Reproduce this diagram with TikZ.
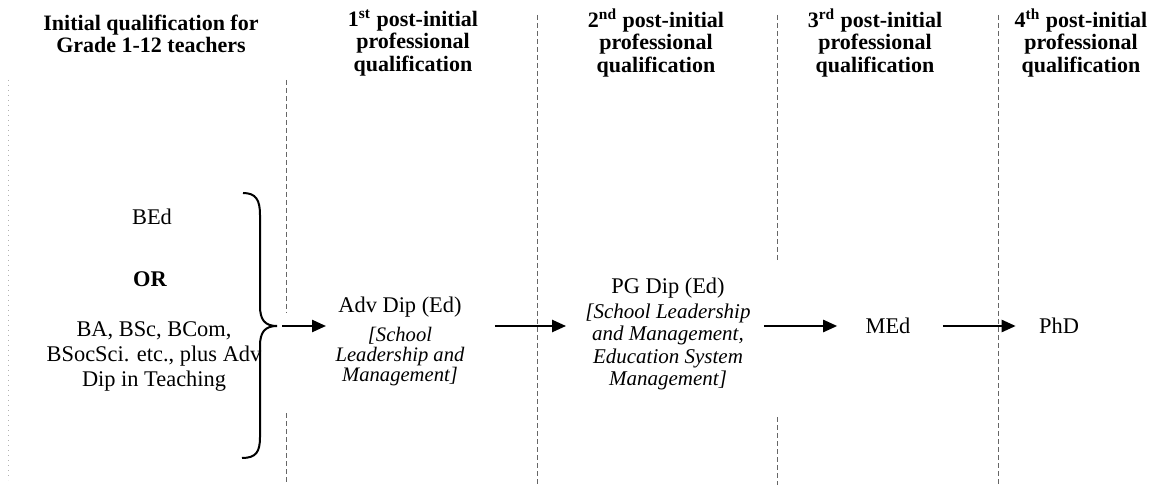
\documentclass[tikz,border=0pt]{standalone}
\usepackage{fontspec}
\setmainfont{Liberation Serif}
\usetikzlibrary{arrows.meta}

\begin{document}
\begin{tikzpicture}[x=0.5pt,y=-0.5pt,>={Triangle[length=7pt,width=6pt]},
                    inner sep=0pt]
  \tikzstyle{headtext}=[font=\bfseries\fontsize{11}{9.3}\selectfont,align=center]
  \tikzstyle{bodytext}=[font=\fontsize{11.2}{12.5}\selectfont,align=center]
  \tikzstyle{subtext}=[font=\itshape\fontsize{10.3}{10}\selectfont,align=center]
  \tikzstyle{flow}=[->,line width=1.2pt]
  \tikzstyle{divider}=[black!60,line width=0.5pt,dash pattern=on 2.5pt off 1.5pt]

  \useasboundingbox (0,0) rectangle (1154,485);

  \draw[divider,black!30,dotted] (8,80) -- (8,480);
  \draw[divider] (286,80) -- (286,313) (286,413) -- (286,485);
  \draw[divider] (537,15) -- (537,485);
  \draw[divider] (777,15) -- (777,260) (777,417) -- (777,485);
  \draw[divider] (998,15) -- (998,485);

  \node[headtext] (H0) at (151,34) {Initial qualification for\\Grade 1-12 teachers};
  \node[headtext] (H1) at (413,43) {1\textsuperscript{st} post-initial\\professional\\qualification};
  \node[headtext] (H2) at (656,43) {2\textsuperscript{nd} post-initial\\professional\\qualification};
  \node[headtext] (H3) at (875,43) {3\textsuperscript{rd} post-initial\\professional\\qualification};
  \node[headtext] (H4) at (1081,43) {4\textsuperscript{th} post-initial\\professional\\qualification};

  \node[bodytext] (BEd) at (152,217) {BEd};
  \node[bodytext,font=\bfseries\fontsize{11.2}{12.5}\selectfont] (OR) at (150,279) {OR};
  \node[bodytext] (BA) at (154,357) {BA, BSc, BCom,\\BSocSci. etc., plus Adv\\Dip in Teaching};

  \draw[line width=1pt] (243,193) .. controls (256,193) and (260,200) .. (260,215)
    -- (260,306) .. controls (260,320) and (265,326) .. (277,326)
    .. controls (265,326) and (260,332) .. (260,346)
    -- (260,437) .. controls (260,452) and (256,458) .. (242,458);
  \coordinate (tip) at (277,326);

  \node[bodytext] (AD) at (400,307) {Adv Dip (Ed)};
  \node[subtext] (ADs) at (400,357) {[School\\Leadership and\\Management]};
  \node[bodytext] (PG) at (668,288) {PG Dip (Ed)};
  \node[subtext,font=\itshape\fontsize{10.5}{11.3}\selectfont] (PGs) at (668,347)
    {[School Leadership\\and Management,\\Education System\\Management]};
  \node[bodytext] (MEd) at (888,326) {MEd};
  \node[bodytext] (PhD) at (1059,326) {PhD};

  \draw[flow,shorten <=2.5pt,shorten >=6pt] (tip) -- (tip -| AD.west);
  \draw[flow,shorten <=15pt,shorten >=9.5pt] (ADs.east |- MEd) -- (PGs.west |- MEd);
  \draw[flow,shorten <=6.5pt,shorten >=14pt] (PGs.east |- MEd) -- (MEd.west);
  \draw[flow,shorten <=16pt,shorten >=11.5pt] (MEd.east) -- (PhD.west);
\end{tikzpicture}
\end{document}
